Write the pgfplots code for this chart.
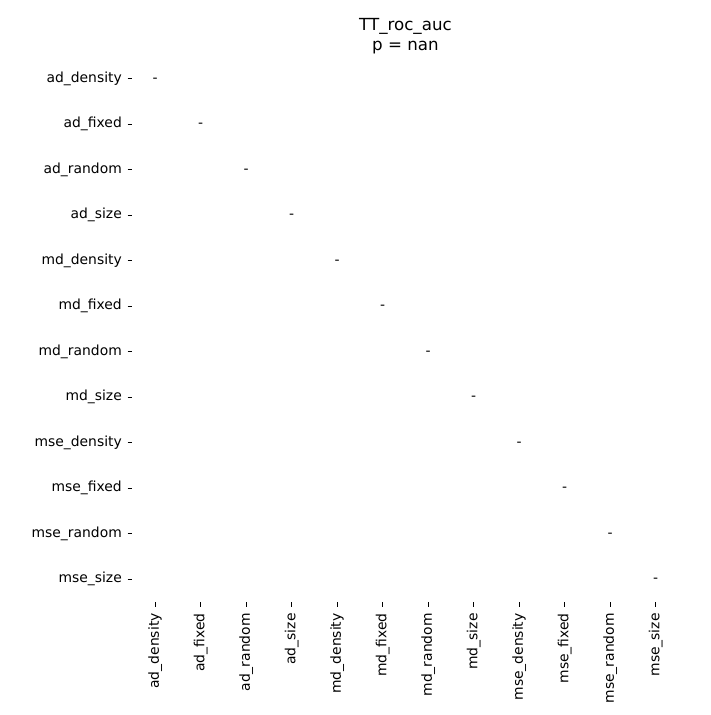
\documentclass[border=0pt]{standalone}
\usepackage{fontspec}
\setmainfont{DejaVu Sans}
\usepackage{pgfplots}
\pgfplotsset{compat=1.18}
\begin{document}
\begin{tikzpicture}
\begin{axis}[
  scale only axis,
  width=393.1pt, height=393.1pt,
  xmin=-0.5, xmax=11.5, ymin=-0.5, ymax=11.5,
  y dir=reverse,
  axis line style={draw=none},
  xtick={0,...,11}, ytick={0,...,11},
  xticklabels={ad\_density,ad\_fixed,ad\_random,ad\_size,md\_density,md\_fixed,md\_random,md\_size,mse\_density,mse\_fixed,mse\_random,mse\_size},
  yticklabels={ad\_density,ad\_fixed,ad\_random,ad\_size,md\_density,md\_fixed,md\_random,md\_size,mse\_density,mse\_fixed,mse\_random,mse\_size},
  xtick pos=bottom, ytick pos=left,
  tick align=outside,
  major tick length=3.5pt,
  tick style={black, line width=0.8pt},
  ticklabel style={font=\fontsize{10}{12}\selectfont},
  xticklabel style={rotate=90, anchor=east, inner sep=4.5pt},
  yticklabel style={anchor=east, inner sep=4pt},
  title={TT\_roc\_auc\\p = nan},
  title style={align=center, font=\fontsize{12}{15}\selectfont, inner sep=0pt, yshift=-5pt},
  clip=false,
]
\addplot[draw=none, mark=none, point meta=explicit symbolic,
  nodes near coords, nodes near coords align=center,
  every node near coord/.style={font=\fontsize{10}{12}\selectfont, inner sep=0pt, text=black, yshift=-1pt}]
  table[meta=label] {
x y label
0 0 -
1 1 -
2 2 -
3 3 -
4 4 -
5 5 -
6 6 -
7 7 -
8 8 -
9 9 -
10 10 -
11 11 -
};
\end{axis}
\path (current axis.south west) ++(-95.4pt,-81.4pt) coordinate (bl);
\path (current axis.north east) ++(23.4pt,40.3pt) coordinate (tr);
\path (bl) rectangle (tr);
\end{tikzpicture}
\end{document}
